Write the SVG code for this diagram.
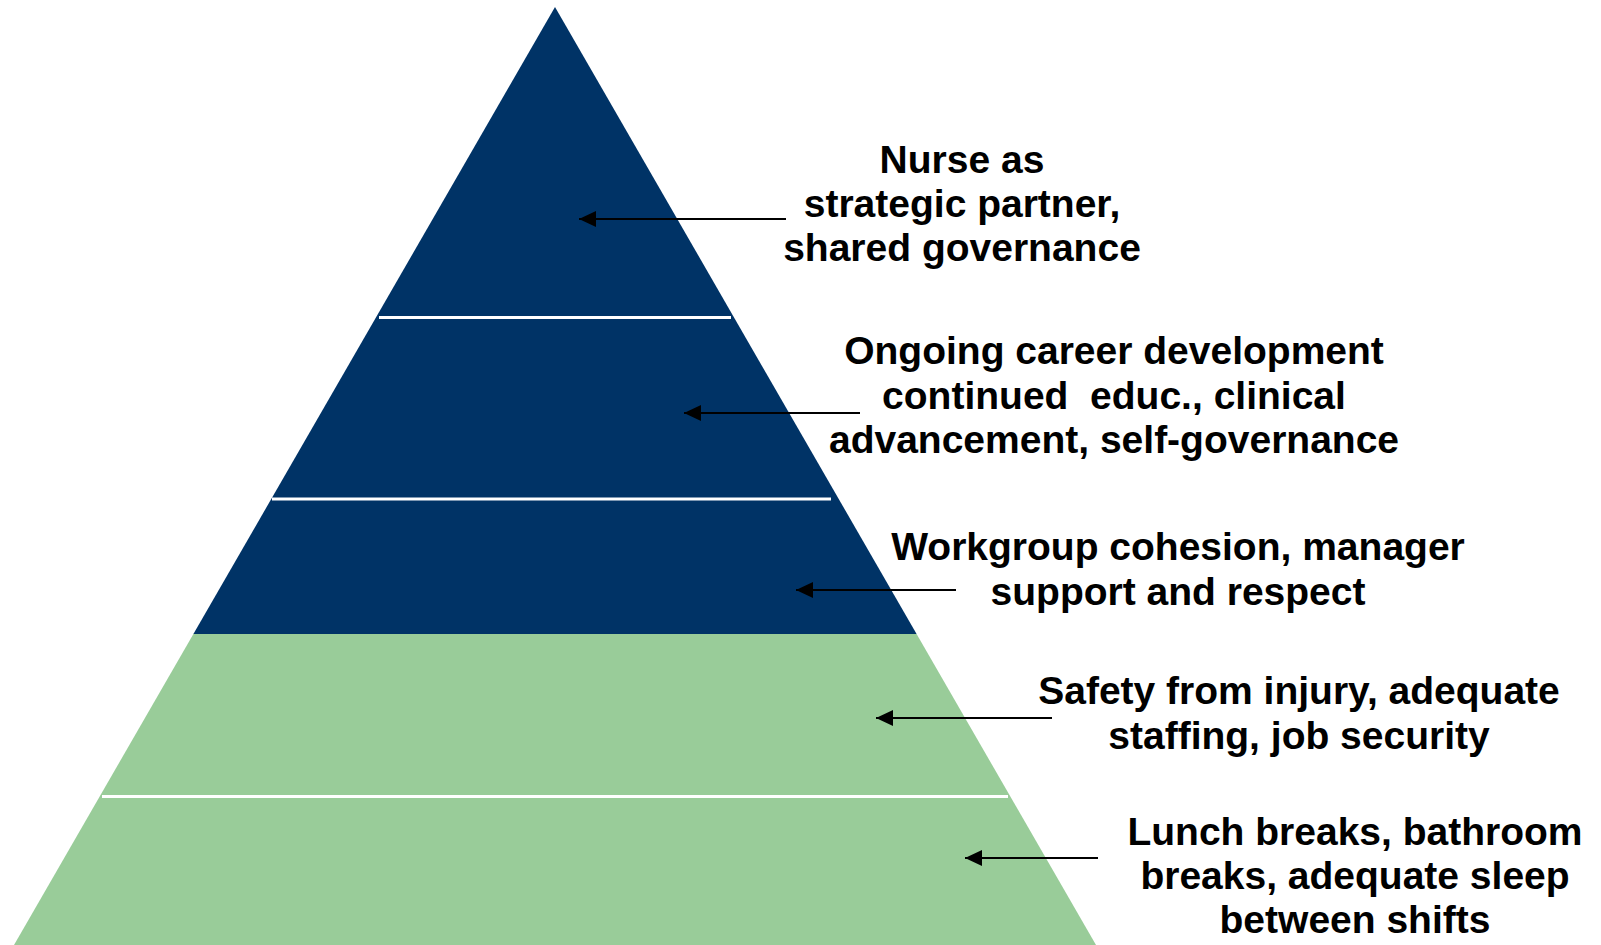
<svg xmlns="http://www.w3.org/2000/svg" width="1601" height="945" viewBox="0 0 1601 945">
<defs>
<style>
.lbl{font-family:"Liberation Sans",Arial,sans-serif;font-weight:bold;font-size:39px;fill:#000;text-anchor:middle}
.div{stroke:#fff;stroke-width:3}
.arr{stroke:#000;stroke-width:2;fill:none}
</style>
<marker id="ah" markerUnits="userSpaceOnUse" markerWidth="20" markerHeight="18" refX="17" refY="8" orient="auto">
<path d="M0,0 L17,8 L0,16 Z" fill="#000"/>
</marker>
</defs>
<g id="pyramid">
<polygon points="555,7 916.6,634 193.4,634" fill="#003366"/>
<polygon points="193.4,634 916.6,634 1096,945 14,945" fill="#99CC99"/>
<line class="div" x1="379" y1="317.5" x2="731" y2="317.5"/>
<line class="div" x1="272" y1="499" x2="831" y2="499"/>
<line class="div" x1="102" y1="796.5" x2="1008" y2="796.5"/>
</g>
<g id="connectors">
<line class="arr" x1="786" y1="219" x2="579" y2="219" marker-end="url(#ah)"/>
<line class="arr" x1="860" y1="413" x2="684" y2="413" marker-end="url(#ah)"/>
<line class="arr" x1="956" y1="590" x2="796" y2="590" marker-end="url(#ah)"/>
<line class="arr" x1="1052" y1="718" x2="876" y2="718" marker-end="url(#ah)"/>
<line class="arr" x1="1098" y1="858" x2="965" y2="858" marker-end="url(#ah)"/>
</g>
<g id="label1">
<text class="lbl" x="962" y="173">Nurse as</text>
<text class="lbl" x="962" y="217">strategic partner,</text>
<text class="lbl" x="962" y="261">shared governance</text>
</g>
<g id="label2">
<text class="lbl" x="1114" y="364">Ongoing career development</text>
<text class="lbl" x="1114" y="409" style="white-space:pre">continued  educ., clinical</text>
<text class="lbl" x="1114" y="453">advancement, self-governance</text>
</g>
<g id="label3">
<text class="lbl" x="1178" y="560">Workgroup cohesion, manager</text>
<text class="lbl" x="1178" y="605">support and respect</text>
</g>
<g id="label4">
<text class="lbl" x="1299" y="704">Safety from injury, adequate</text>
<text class="lbl" x="1299" y="749">staffing, job security</text>
</g>
<g id="label5">
<text class="lbl" x="1355" y="845">Lunch breaks, bathroom</text>
<text class="lbl" x="1355" y="889">breaks, adequate sleep</text>
<text class="lbl" x="1355" y="933">between shifts</text>
</g>
</svg>
